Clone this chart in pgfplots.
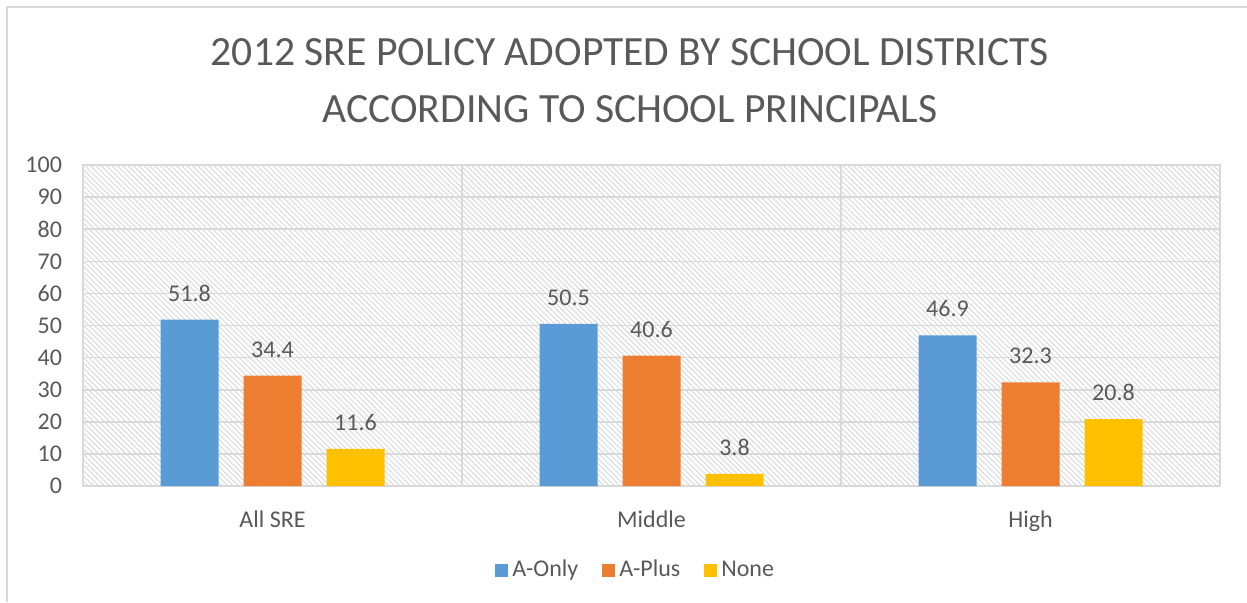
\documentclass[border=0pt]{standalone}
\usepackage{pgfplots}
\pgfplotsset{compat=1.18}
\usepackage{fontspec}
\setmainfont{Carlito}
\usetikzlibrary{patterns.meta}

\definecolor{txt}{HTML}{595959}
\definecolor{grd}{HTML}{D9D9D9}
\definecolor{cblue}{HTML}{5B9BD5}
\definecolor{corange}{HTML}{ED7D31}
\definecolor{cyellow}{HTML}{FFC000}

\begin{document}
\begin{tikzpicture}
% page frame, 1 px of the reference = 0.5pt
\useasboundingbox (0,0) rectangle (623.5pt,-301pt);
\draw[grd, line width=0.6pt] (3.5pt,-301pt) -- (3.5pt,-3.5pt) -- (623.5pt,-3.5pt);

\node[anchor=base, text=txt, font=\fontsize{20.8}{24}\selectfont] at (315pt,-32.5pt) {2012 SRE POLICY ADOPTED BY SCHOOL DISTRICTS};
\node[anchor=base, text=txt, font=\fontsize{20.8}{24}\selectfont] at (315pt,-61pt) {ACCORDING TO SCHOOL PRINCIPALS};

\begin{axis}[
  at={(41.5pt,-243pt)}, anchor=south west,
  scale only axis, width=568.5pt, height=160.5pt,
  ybar=12.5pt, bar width=29pt,
  xmin=-0.5, xmax=2.5, ymin=0, ymax=100,
  xtick={0,1,2}, xticklabels={All SRE, Middle, High},
  ytick={0,10,...,100},
  extra x ticks={0.5,1.5}, extra x tick labels={},
  extra x tick style={grid=major, major tick length=0pt},
  ymajorgrids, grid style={grd, line width=0.8pt},
  axis line style={grd, line width=0.8pt},
  major tick length=0pt,
  tick label style={text=txt, font=\fontsize{12}{14}\selectfont},
  /pgf/number format/assume math mode=true,
  yticklabel style={xshift=-7pt},
  xticklabel style={yshift=-9pt},
  axis background/.style={pattern={Lines[angle=-45,distance=1.9pt,line width=0.5pt]}, pattern color=grd},
  nodes near coords={\pgfmathprintnumber[fixed,fixed zerofill,precision=1,assume math mode=true]{\pgfplotspointmeta}},
  every node near coord/.append style={text=txt, font=\fontsize{12}{14}\selectfont, inner sep=0pt, yshift=9pt},
  legend columns=3,
  legend style={at={(0.487,-0.262)}, anchor=center, draw=none, fill=none,
    font=\fontsize{12}{14}\selectfont, text=txt,
    /tikz/every even column/.append style={column sep=10pt}},
  legend image code/.code={\fill[#1] (0pt,-3.25pt) rectangle (6.5pt,3.25pt);},
]
\addplot[fill=cblue, draw=none] coordinates {(0,51.8) (1,50.5) (2,46.9)};
\addplot[fill=corange, draw=none] coordinates {(0,34.4) (1,40.6) (2,32.3)};
\addplot[fill=cyellow, draw=none] coordinates {(0,11.6) (1,3.8) (2,20.8)};
\legend{A-Only, A-Plus, None}
\end{axis}
\end{tikzpicture}
\end{document}
